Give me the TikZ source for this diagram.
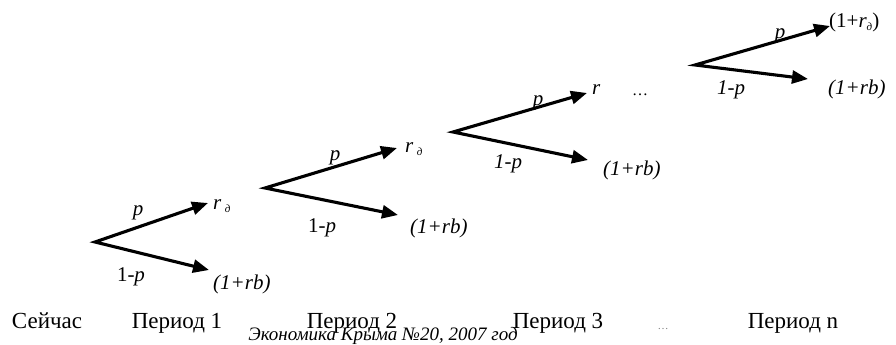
\documentclass[tikz,border=0pt]{standalone}
\usepackage{fontspec}
\setmainfont{Liberation Serif}
\usetikzlibrary{arrows.meta}
\begin{document}
\begin{tikzpicture}[x=1pt,y=-1pt,
  branch/.style={line width=3.1pt,line join=miter,{Triangle[length=16pt,width=13pt]}-{Triangle[length=16pt,width=13pt]}},
  lbl/.style={inner sep=0pt,font=\fontsize{21}{21}\selectfont\itshape},
  per/.style={inner sep=0pt,anchor=base,font=\fontsize{23}{23}\selectfont},
  captext/.style={inner sep=0pt,anchor=base,font=\fontsize{19}{19}\selectfont\itshape}]
\useasboundingbox (0,0) rectangle (896,345);
\newcommand{\rd}{r\,\raisebox{-0.35ex}{\fontsize{11}{11}\selectfont д}}
% tree 1
\coordinate (v1) at (95,242);
\coordinate (u1) at (208,203);
\coordinate (l1) at (209,270);
\draw[branch] (u1) -- (v1) -- (l1);
\node[lbl] (p1) at (138,213) {p};
\node[lbl] (q1) at (131,277) {\upshape 1-\itshape p};
\node[lbl,anchor=west] (ru1) at (213,206) {\rd};
\node[lbl,anchor=west] (rl1) at (213,284) {(1+rb)};
% tree 2
\coordinate (v2) at (265,188);
\coordinate (u2) at (397,148);
\coordinate (l2) at (398,215);
\draw[branch] (u2) -- (v2) -- (l2);
\node[lbl] (p2) at (335,158) {p};
\node[lbl] (q2) at (322,228) {\upshape 1-\itshape p};
\node[lbl,anchor=west] (ru2) at (405,149) {\rd};
\node[lbl,anchor=west] (rl2) at (410,228) {(1+rb)};
% tree 3
\coordinate (v3) at (453,132);
\coordinate (u3) at (587,93);
\coordinate (l3) at (588,160);
\draw[branch] (u3) -- (v3) -- (l3);
\node[lbl] (p3) at (538,103) {p};
\node[lbl] (q3) at (508,164) {1-p};
\node[lbl,anchor=west] (ru3) at (592,90) {r};
\node[lbl] (d3) at (640,95) {\upshape\fontsize{16}{16}\selectfont\dots};
\node[lbl,anchor=west] (rl3) at (603,170) {(1+rb)};
% tree 4
\coordinate (v4) at (695,65);
\coordinate (u4) at (830,26);
\coordinate (l4) at (808,79);
\draw[branch] (u4) -- (v4) -- (l4);
\node[lbl] (p4) at (780,36) {p};
\node[lbl] (q4) at (731,90) {1-p};
\node[lbl,anchor=west] (ru4) at (829,22) {\upshape(1+\itshape r\raisebox{-0.35ex}{\fontsize{11}{11}\selectfont д}\upshape)};
\node[lbl,anchor=west] (rl4) at (828,89) {(1+rb)};
% bottom labels
\node[per] (s0) at (47,328) {Сейчас};
\node[per] (s1) at (177,328) {Период 1};
\node[per] (s2) at (352,328) {Период 2};
\node[per] (s3) at (558,328) {Период 3};
\node[per,font=\fontsize{11}{11}\selectfont,text=gray] (sd) at (663,329) {\dots};
\node[per] (sn) at (793,328) {Период n};
\node[captext] (c) at (383,340) {Экономика Крыма №20, 2007 год};
\end{tikzpicture}
\end{document}
